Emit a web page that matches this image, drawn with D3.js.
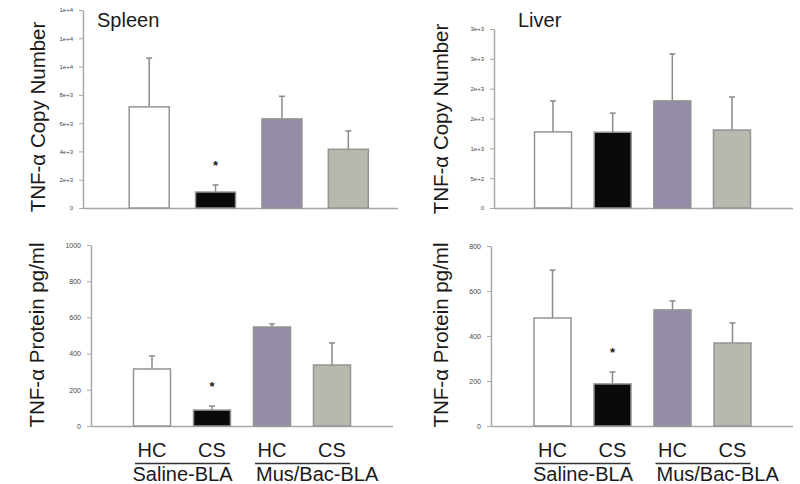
<!DOCTYPE html>
<html><head><meta charset="utf-8">
<script src="https://cdn.jsdelivr.net/npm/d3@7"></script>
<style>body{margin:0;background:#fff}svg{display:block}text{font-family:"Liberation Sans",Arial,sans-serif}</style>
</head><body><svg id="c" width="800" height="484"></svg>
<script>
// ---- data ----
const groups = ["HC", "CS", "HC", "CS"];
const treatments = ["Saline-BLA", "Mus/Bac-BLA"];
const barColors = ["#ffffff", "#0a0a0a", "#948ca7", "#b8b8ae"];

const spleenCopy = [7150, 1130, 6300, 4150];
const spleenCopyErr = [3450, 500, 1600, 1300];
const liverCopy = [1275, 1270, 1795, 1307];
const liverCopyErr = [520, 320, 788, 553];
const spleenProtein = [315, 88, 547, 337];
const spleenProteinErr = [72, 22, 17, 122];
const liverProtein = [480, 187, 516, 369];
const liverProteinErr = [213, 53, 40, 89];

const spleenCopySig = [false, true, false, false];
const liverCopySig = [false, false, false, false];
const spleenProteinSig = [false, true, false, false];
const liverProteinSig = [false, true, false, false];

const spleenCopyTicks = [0, 2000, 4000, 6000, 8000, 10000, 12000, 14000];
const spleenCopyTickLabels = ["0", "2e+3", "4e+3", "6e+3", "8e+3", "1e+4", "1e+4", "1e+4"];
const liverCopyTicks = [0, 500, 1000, 1500, 2000, 2500, 3000];
const liverCopyTickLabels = ["0", "5e+2", "1e+3", "2e+3", "2e+3", "3e+3", "3e+3"];
const spleenProteinTicks = [0, 200, 400, 600, 800, 1000];
const spleenProteinTickLabels = ["0", "200", "400", "600", "800", "1000"];
const liverProteinTicks = [0, 200, 400, 600, 800];
const liverProteinTickLabels = ["0", "200", "400", "600", "800"];

const copyTitle = "TNF-\u03b1 Copy Number";
const proteinTitle = "TNF-\u03b1 Protein pg/ml";
const organs = ["Spleen", "Liver"];

// ---- layout ----
const svg = d3.select("#c");
const panels = [
  {vals: spleenCopy, errs: spleenCopyErr, sig: spleenCopySig, ticks: spleenCopyTicks, labels: spleenCopyTickLabels,
   ax: 83, y0: 208, y1: 10, xr: [116, 381.5], bw: 40, end: 398, tickFont: 6, ytitle: copyTitle, tx: 38, ty: 117, organ: organs[0], ox: 97},
  {vals: liverCopy, errs: liverCopyErr, sig: liverCopySig, ticks: liverCopyTicks, labels: liverCopyTickLabels,
   ax: 494, y0: 208, y1: 29, xr: [523.2, 761.8], bw: 37, end: 793, tickFont: 6, ytitle: copyTitle, tx: 441, ty: 119, organ: organs[1], ox: 518},
  {vals: spleenProtein, errs: spleenProteinErr, sig: spleenProteinSig, ticks: spleenProteinTicks, labels: spleenProteinTickLabels,
   ax: 91, y0: 426, y1: 245, xr: [122, 362], bw: 37, end: 393, tickFont: 7, ytitle: proteinTitle, tx: 37, ty: 335, groupsBelow: true},
  {vals: liverProtein, errs: liverProteinErr, sig: liverProteinSig, ticks: liverProteinTicks, labels: liverProteinTickLabels,
   ax: 491, y0: 426, y1: 246, xr: [522.5, 762.5], bw: 37, end: 793, tickFont: 7, ytitle: proteinTitle, tx: 441, ty: 335, groupsBelow: true}
];

panels.forEach(p => {
  const dom = p.ticks[p.ticks.length - 1];
  const y = d3.scaleLinear().domain([0, dom]).range([p.y0, p.y1]);
  const step = (p.xr[1] - p.xr[0]) / groups.length;
  const pad = 1 - p.bw / step;
  const x = d3.scaleBand().domain(d3.range(groups.length)).range(p.xr).paddingInner(pad).paddingOuter(pad / 2);
  const cx = i => x(i) + x.bandwidth() / 2;
  const g = svg.append("g");

  // y axis
  const ya = g.append("g").attr("transform", `translate(${p.ax},0)`)
    .call(d3.axisLeft(y).tickValues(p.ticks).tickFormat((d, i) => p.labels[i]).tickSize(4).tickSizeOuter(0).tickPadding(6));
  ya.attr("color", "#444");
  ya.select(".domain").attr("stroke", "#a8a8a8").attr("stroke-width", 1.5);
  ya.selectAll(".tick line").attr("stroke", "#a8a8a8");
  ya.selectAll(".tick text").attr("fill", "#444").style("font-size", p.tickFont + "px").style("font-family", "Liberation Sans, Arial, sans-serif");

  // baseline
  g.append("line").attr("x1", p.ax).attr("x2", p.end).attr("y1", y(0) + 0.5).attr("y2", y(0) + 0.5)
    .attr("stroke", "#a8a8a8").attr("stroke-width", 1.5);

  // error bars
  const eg = g.selectAll(".err").data(p.vals).enter().append("g");
  eg.append("line").attr("x1", (d, i) => cx(i)).attr("x2", (d, i) => cx(i))
    .attr("y1", d => y(d)).attr("y2", (d, i) => y(d + p.errs[i])).attr("stroke", "#8a8a8a").attr("stroke-width", 1.5);
  eg.append("line").attr("x1", (d, i) => cx(i) - 3).attr("x2", (d, i) => cx(i) + 3)
    .attr("y1", (d, i) => y(d + p.errs[i])).attr("y2", (d, i) => y(d + p.errs[i])).attr("stroke", "#8a8a8a").attr("stroke-width", 1.5);

  // bars
  g.selectAll(".bar").data(p.vals).enter().append("rect")
    .attr("x", (d, i) => x(i)).attr("width", x.bandwidth())
    .attr("y", d => y(d)).attr("height", d => y(0) - y(d))
    .attr("fill", (d, i) => barColors[i]).attr("stroke", "#949494").attr("stroke-width", 1.5);

  // significance stars
  p.vals.forEach((d, i) => {
    if (!p.sig[i]) return;
    g.append("text").attr("x", cx(i)).attr("y", y(d + p.errs[i]) - 15)
      .attr("text-anchor", "middle").attr("fill", "#222").style("font-size", "13px").style("font-weight", "bold").text("*");
  });

  // y title
  g.append("text").attr("transform", `translate(${p.tx + 7},${p.ty}) rotate(-90)`)
    .attr("text-anchor", "middle").attr("fill", "#1a1a1a").style("font-size", "20.5px").text(p.ytitle);

  // organ title
  if (p.organ) g.append("text").attr("x", p.ox).attr("y", 27).attr("fill", "#1a1a1a").style("font-size", "20px").text(p.organ);

  // group labels
  if (p.groupsBelow) {
    g.selectAll(".gl").data(groups).enter().append("text")
      .attr("x", (d, i) => cx(i)).attr("y", 457).attr("text-anchor", "middle")
      .attr("fill", "#1a1a1a").style("font-size", "20px").text(d => d);
    treatments.forEach((t, k) => {
      const a = cx(2 * k) - 17, b = cx(2 * k + 1) + 18;
      g.append("line").attr("x1", a).attr("x2", b).attr("y1", 463.5).attr("y2", 463.5).attr("stroke", "#333").attr("stroke-width", 1.3);
      g.append("text").attr("x", k === 0 ? (a + b) / 2 : a + 1).attr("y", 481)
        .attr("text-anchor", k === 0 ? "middle" : "start")
        .attr("fill", "#1a1a1a").style("font-size", "20px").text(t);
    });
  }
});
</script></body></html>
